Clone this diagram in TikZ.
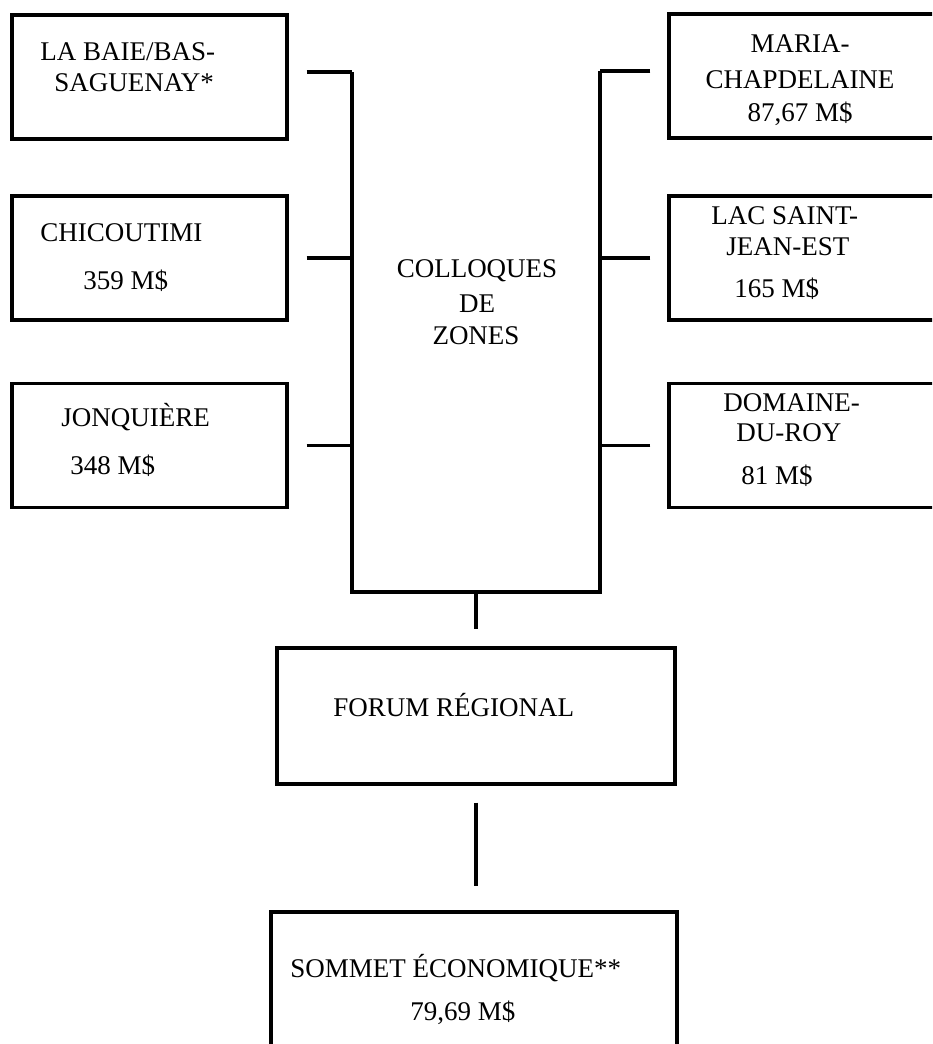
\documentclass[tikz,border=0pt]{standalone}
\usepackage{fontspec}
\setmainfont{Liberation Serif}
\usetikzlibrary{calc}
\tikzset{
  zone/.style={draw, line width=1.6pt, inner sep=0pt, minimum width=137.5pt, minimum height=62pt},
  wide/.style={draw, line width=1.6pt, inner sep=0pt, minimum width=#1},
  lbl/.style={inner sep=0pt, font=\fontsize{13.5}{15}\selectfont},
  link/.style={line width=1.6pt},
}
\begin{document}
\begin{tikzpicture}[x=0.5pt,y=-0.5pt]
\useasboundingbox (0,0) rectangle (932,1044);
\clip (0,0) rectangle (932,1044);
% left zones
\node[zone] (b1) at (149.5,77) {};
\node[zone] (b2) at (149.5,258) {};
\node[zone] (b3) at (149.5,445.5) {};
\node[lbl, anchor=base west] (t1a) at (40,61) {LA BAIE/BAS-};
\node[lbl, anchor=base west] (t1b) at (54,91) {SAGUENAY*};
\node[lbl, anchor=base west] (t2a) at (40,241) {CHICOUTIMI};
\node[lbl, anchor=base west] (t2b) at (83,289) {359 M\$};
\node[lbl, anchor=base west] (t3a) at (61,426) {JONQUIÈRE};
\node[lbl, anchor=base west] (t3b) at (70,474) {348 M\$};
% right zones
\node[zone] (m1) at (806.5,76) {};
\node[zone] (m2) at (806.5,258) {};
\node[zone] (m3) at (806.5,445.5) {};
\node[lbl, anchor=base] (u1a) at (800,53) {MARIA-};
\node[lbl, anchor=base] (u1b) at (800,88) {CHAPDELAINE};
\node[lbl, anchor=base] (u1c) at (800,121) {87,67 M\$};
\node[lbl, anchor=base west] (u2a) at (711,224) {LAC SAINT-};
\node[lbl, anchor=base west] (u2b) at (726,255) {JEAN-EST};
\node[lbl, anchor=base west] (u2c) at (734,297) {165 M\$};
\node[lbl, anchor=base west] (u3a) at (723,411) {DOMAINE-};
\node[lbl, anchor=base west] (u3b) at (736,441) {DU-ROY};
\node[lbl, anchor=base west] (u3c) at (741,484) {81 M\$};
% colloques
\node[lbl, anchor=base] (c1) at (477,277) {COLLOQUES};
\node[lbl, anchor=base] (c2) at (477,312) {DE};
\node[lbl, anchor=base] (c3) at (476,344) {ZONES};
% forum and sommet
\node[wide=199pt, minimum height=68pt] (forum) at (476,716) {};
\node[lbl, anchor=base west] (f1) at (333,716) {FORUM RÉGIONAL};
\node[wide=203pt, minimum height=74pt] (sommet) at (474,986) {};
\node[lbl, anchor=base west] (s1) at (290,977) {SOMMET ÉCONOMIQUE**};
\node[lbl, anchor=base west] (s2) at (410,1020) {79,69 M\$};
% bracket
\coordinate (lv) at (352,72);
\coordinate (lb) at (352,592);
\coordinate (rv) at (600,71);
\coordinate (rb) at (600,592);
\draw[link] (lv) -- (lb) -- (rb) -- (rv);
\draw[link, shorten <=9pt] (b1.east |- lv) -- (lv);
\draw[link, shorten <=9pt] (b2.east) -- (b2.east -| lv);
\draw[link, shorten <=9pt] (b3.east) -- (b3.east -| lv);
\draw[link, shorten <=8.5pt] (m1.west |- rv) -- (rv);
\draw[link, shorten <=8.5pt] (m2.west) -- (m2.west -| rv);
\draw[link, shorten <=8.5pt] (m3.west) -- (m3.west -| rv);
\draw[link, shorten >=8.5pt] (forum.north |- lb) -- (forum.north);
\draw[link, shorten <=8.5pt, shorten >=12pt] (forum.south) -- (forum.south |- sommet.north);
\end{tikzpicture}
\end{document}
